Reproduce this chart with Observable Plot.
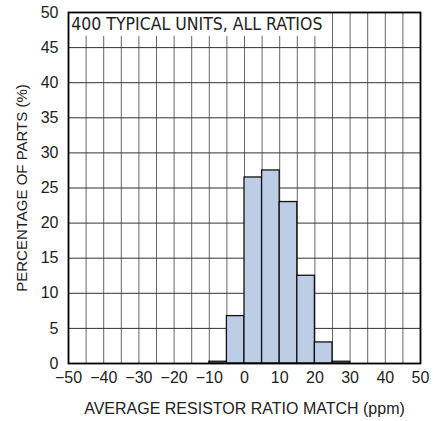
<!DOCTYPE html>
<html>
<head>
<meta charset="utf-8">
<script src="https://cdn.jsdelivr.net/npm/d3@7"></script>
<script src="https://cdn.jsdelivr.net/npm/@observablehq/plot@0.6"></script>
<style>
  html, body { margin: 0; padding: 0; background: #fff; }
  svg { display: block; }
</style>
</head>
<body>
<div id="chart"></div>
<script>
// Data
const binStarts = [-10, -5, 0, 5, 10, 15, 20, 25];
const binWidth = 5;
const percentOfParts = [0.25, 6.75, 26.5, 27.5, 23, 12.5, 3, 0.25];
const xTicks = [-50, -40, -30, -20, -10, 0, 10, 20, 30, 40, 50];
const xGrid = [-45, -40, -35, -30, -25, -20, -15, -10, -5, 0, 5, 10, 15, 20, 25, 30, 35, 40, 45];
const yTicks = [0, 5, 10, 15, 20, 25, 30, 35, 40, 45, 50];
const yGrid = [5, 10, 15, 20, 25, 30, 35, 40, 45];
const noteText = "400 TYPICAL UNITS, ALL RATIOS";
const noteBox = [{x1: -50, x2: 25, y1: 46.6, y2: 50}];
const xLabel = "AVERAGE RESISTOR RATIO MATCH (ppm)";
const yLabel = "PERCENTAGE OF PARTS (%)";

const bins = binStarts.map((s, i) => ({x1: s, x2: s + binWidth, y: percentOfParts[i]}));
const fmt = d => d < 0 ? "\u2212" + Math.abs(d) : String(d);
const FONT = "'Liberation Sans', Arial, sans-serif";
const NARROW = "'Liberation Sans Narrow', 'Arial Narrow', 'DejaVu Sans Condensed', sans-serif";

const chart = Plot.plot({
  width: 444,
  height: 421,
  marginLeft: 68,
  marginRight: 24,
  marginTop: 12,
  marginBottom: 58,
  style: {fontFamily: FONT, fontSize: "16px", color: "#222", background: "#fff"},
  x: {domain: [-50, 50]},
  y: {domain: [0, 50]},
  marks: [
    Plot.ruleX(xGrid, {stroke: "#666", strokeWidth: 1, strokeOpacity: 1}),
    Plot.ruleY(yGrid, {stroke: "#333", strokeWidth: 1, strokeOpacity: 1}),
    Plot.rect(noteBox, {x1: "x1", x2: "x2", y1: "y1", y2: "y2", fill: "white", fillOpacity: 1}),
    Plot.ruleX([25], {y1: 46.6, y2: 50, stroke: "#666"}),
    Plot.rectY(bins, {x1: "x1", x2: "x2", y: "y", fill: "#bdcde6", stroke: "#111", strokeWidth: 1.3}),
    Plot.frame({stroke: "#000", strokeWidth: 1.8}),
    Plot.text([noteText], {x: -49.2, y: 48.3, text: d => d, textAnchor: "start", fontSize: 17.5, fontFamily: NARROW, fill: "#222"}),
    Plot.axisX(xTicks, {tickSize: 0, tickPadding: 8, tickFormat: fmt, fontSize: 16, label: null}),
    Plot.axisY(yTicks, {tickSize: 0, tickPadding: 10, tickFormat: fmt, fontSize: 16, label: null}),
    Plot.text([xLabel], {frameAnchor: "bottom", dy: 50, text: d => d, fontSize: 16, fill: "#222"}),
    Plot.text([yLabel], {frameAnchor: "left", dx: -46, rotate: -90, textAnchor: "middle", text: d => d, fontSize: 15, fill: "#222"})
  ]
});
document.getElementById("chart").appendChild(chart);
</script>
</body>
</html>
